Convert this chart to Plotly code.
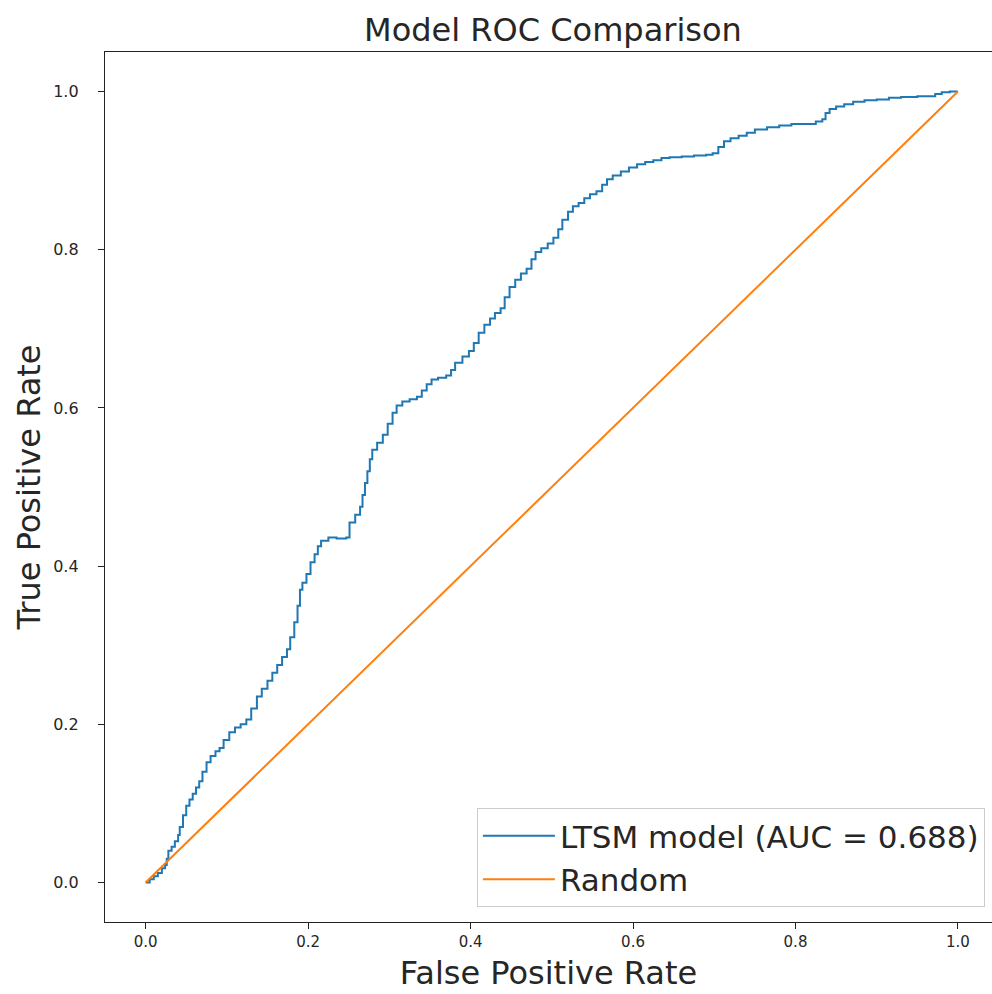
import plotly.graph_objects as go

# ROC curve values
fpr = [0, 0.005, 0.01, 0.015, 0.02, 0.024, 0.026, 0.028, 0.032, 0.036, 0.04, 0.042, 0.046, 0.05, 0.054,
       0.058, 0.062, 0.066, 0.07, 0.075, 0.08, 0.086, 0.091, 0.096, 0.103, 0.11, 0.117, 0.124, 0.13, 0.137,
       0.143, 0.15, 0.156, 0.162, 0.168, 0.174, 0.178, 0.183, 0.187, 0.19, 0.193, 0.198, 0.203, 0.208, 0.212,
       0.216, 0.225, 0.235, 0.247, 0.251, 0.258, 0.264, 0.267, 0.27, 0.273, 0.276, 0.279, 0.285, 0.292, 0.298,
       0.304, 0.309, 0.316, 0.325, 0.334, 0.34, 0.346, 0.352, 0.36, 0.37, 0.376, 0.381, 0.39, 0.398, 0.404,
       0.41, 0.417, 0.424, 0.43, 0.437, 0.442, 0.448, 0.455, 0.462, 0.469, 0.475, 0.48, 0.487, 0.495, 0.502,
       0.508, 0.513, 0.52, 0.526, 0.533, 0.54, 0.547, 0.555, 0.562, 0.568, 0.575, 0.585, 0.595, 0.605, 0.615,
       0.625, 0.635, 0.645, 0.66, 0.675, 0.69, 0.698, 0.705, 0.712, 0.72, 0.73, 0.74, 0.75, 0.765, 0.78,
       0.795, 0.81, 0.825, 0.833, 0.837, 0.842, 0.85, 0.86, 0.871, 0.885, 0.9, 0.915, 0.93, 0.95, 0.965,
       0.972, 0.98, 0.99, 1.0]
tpr = [0, 0.004, 0.008, 0.012, 0.018, 0.022, 0.03, 0.04, 0.045, 0.052, 0.06, 0.07, 0.085, 0.097, 0.105,
       0.112, 0.12, 0.128, 0.14, 0.152, 0.16, 0.166, 0.17, 0.18, 0.19, 0.196, 0.2, 0.206, 0.22, 0.235,
       0.245, 0.255, 0.265, 0.275, 0.285, 0.295, 0.31, 0.329, 0.35, 0.37, 0.379, 0.39, 0.405, 0.415, 0.425,
       0.432, 0.436, 0.435, 0.436, 0.455, 0.465, 0.475, 0.49, 0.505, 0.52, 0.535, 0.547, 0.556, 0.566, 0.58,
       0.594, 0.603, 0.608, 0.611, 0.614, 0.622, 0.63, 0.636, 0.638, 0.641, 0.648, 0.657, 0.665, 0.672, 0.682,
       0.695, 0.705, 0.713, 0.72, 0.726, 0.74, 0.753, 0.762, 0.77, 0.776, 0.788, 0.797, 0.802, 0.808, 0.815,
       0.826, 0.838, 0.848, 0.855, 0.859, 0.865, 0.87, 0.874, 0.882, 0.889, 0.894, 0.899, 0.904, 0.908, 0.911,
       0.913, 0.916, 0.917, 0.918, 0.919, 0.92, 0.922, 0.93, 0.937, 0.941, 0.944, 0.948, 0.952, 0.955, 0.957,
       0.959, 0.959, 0.962, 0.965, 0.973, 0.978, 0.981, 0.984, 0.987, 0.989, 0.99, 0.992, 0.993, 0.994, 0.994,
       0.997, 0.999, 1.0, 1.0]

random_x = [0, 1]
random_y = [0, 1]

model_name = "LTSM model (AUC = 0.688)"
random_name = "Random"
tick_vals = [0.0, 0.2, 0.4, 0.6, 0.8, 1.0]
tick_text = ["0.0", "0.2", "0.4", "0.6", "0.8", "1.0"]

FONT = "DejaVu Sans, Verdana, sans-serif"

fig = go.Figure()
fig.add_trace(go.Scatter(x=fpr, y=tpr, mode="lines", name=model_name,
                         line=dict(color="#1f77b4", width=2, shape="hv")))
fig.add_trace(go.Scatter(x=random_x, y=random_y, mode="lines", name=random_name,
                         line=dict(color="#ff7f0e", width=2)))

fig.update_layout(
    width=992, height=994,
    margin=dict(l=105, r=0, t=52, b=72),
    paper_bgcolor="white", plot_bgcolor="white",
    font=dict(family=FONT, color="#262626"),
    title=dict(text="Model ROC Comparison", x=0.505, xref="paper", y=1 - 30 / 994,
               yref="container", xanchor="center", yanchor="middle",
               font=dict(size=32, color="#262626")),
    showlegend=True,
    legend=dict(x=0.992, y=0.017, xanchor="right", yanchor="bottom",
                bgcolor="rgba(255,255,255,0.85)", bordercolor="#cccccc", borderwidth=1,
                font=dict(size=31, color="#262626"), itemwidth=72,
                tracegroupgap=0),
)
fig.update_xaxes(range=[-0.05, 1.0419], tickvals=tick_vals, ticktext=tick_text,
                 showgrid=False, zeroline=False, showline=True, linecolor="#222",
                 linewidth=1.3, mirror=True, ticks="outside", ticklen=6, tickcolor="#222",
                 tickfont=dict(size=15, color="#262626"),
                 title=dict(text="False Positive Rate", font=dict(size=32, color="#262626"),
                            standoff=11),
                 automargin=False)
fig.update_yaxes(range=[-0.05, 1.05], tickvals=tick_vals, ticktext=tick_text,
                 showgrid=False, zeroline=False, showline=True, linecolor="#222",
                 linewidth=1.3, mirror=False, ticks="outside", ticklen=6, tickcolor="#222",
                 tickfont=dict(size=16, color="#262626"), ticklabelstandoff=16,
                 title=dict(text="True Positive Rate", font=dict(size=32, color="#262626"),
                            standoff=2),
                 automargin=False)

fig.write_html("out.html")
